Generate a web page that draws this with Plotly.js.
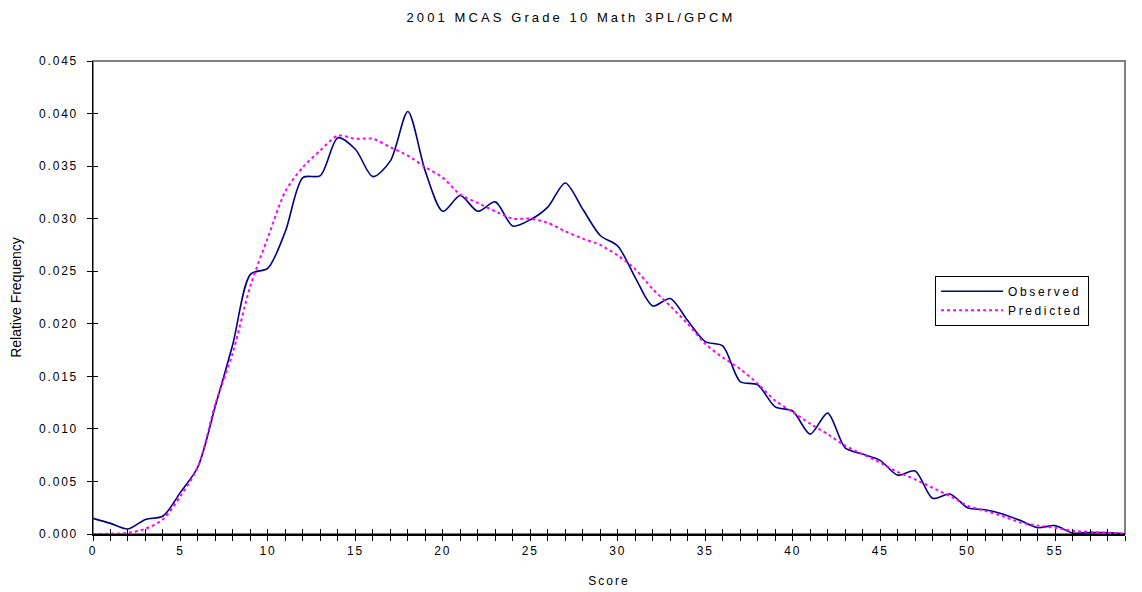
<!DOCTYPE html>
<html>
<head>
<meta charset="utf-8">
<script src="https://cdn.plot.ly/plotly-3.0.1.min.js"></script>
<style>
  html, body { margin: 0; padding: 0; background: #fff; }
  #chart { width: 1142px; height: 592px; }
  .gtitle { letter-spacing: 3.1px; }
  .xtick text, .ytick text { letter-spacing: 1.8px; }
  .xtitle { letter-spacing: 2px; }
  .legendtext { letter-spacing: 2.6px; }
</style>
</head>
<body>
<div id="chart"></div>
<script>
const scores = [];
for (let s = 0; s <= 59; s++) scores.push(s);

const observed = [
  0.00149, 0.00101, 0.00048, 0.00139, 0.00171, 0.00396, 0.0064, 0.0122, 0.0181, 0.0247,
  0.0253, 0.0288, 0.0339, 0.0341, 0.0377, 0.0366, 0.0340, 0.0355, 0.0402, 0.0345,
  0.0307, 0.0322, 0.0307, 0.0316, 0.0293, 0.0299, 0.0311, 0.0334, 0.0309, 0.0284,
  0.0274, 0.0244, 0.0217, 0.0224, 0.0203, 0.0183, 0.0179, 0.0145, 0.0142, 0.0121,
  0.0117, 0.0095, 0.0115, 0.0082, 0.0076, 0.0070, 0.0056, 0.0060, 0.0034, 0.0038,
  0.0025, 0.0023, 0.0019, 0.0013, 0.0006, 0.0008, 0.0001, 0.00013, 0.00013, 0.0
];

const predicted = [
  0.0, 0.00003, 0.0001, 0.0005, 0.0014, 0.0036, 0.0064, 0.0124, 0.0173, 0.0236,
  0.0282, 0.0326, 0.0349, 0.0365, 0.0379, 0.0376, 0.0376, 0.0368, 0.0360, 0.0349,
  0.0339, 0.0323, 0.0315, 0.0307, 0.0300, 0.0300, 0.0296, 0.0288, 0.0281, 0.0275,
  0.0265, 0.0252, 0.0233, 0.0217, 0.0200, 0.0181, 0.0168, 0.0157, 0.0143, 0.0127,
  0.0116, 0.0105, 0.0095, 0.0084, 0.0076, 0.0068, 0.0059, 0.0052, 0.0044, 0.0036,
  0.0027, 0.0022, 0.0017, 0.0011, 0.0008, 0.0006, 0.0003, 0.0002, 0.0001, 0.00005
];

const seriesNames = ['Observed', 'Predicted'];
const chartTitle = '2001 MCAS Grade 10 Math 3PL/GPCM';
const xTitle = 'Score';
const yTitle = 'Relative Frequency';

const font = 'Liberation Sans, Arial, sans-serif';

const traces = [
  {
    x: scores, y: observed, name: seriesNames[0], type: 'scatter', mode: 'lines',
    line: { color: '#000080', width: 1.6, shape: 'spline', smoothing: 0.8 }
  },
  {
    x: scores, y: predicted, name: seriesNames[1], type: 'scatter', mode: 'lines',
    line: { color: '#FF00FF', width: 2, dash: 'dot', shape: 'spline', smoothing: 0.8 }
  },
  {
    x: [0], y: [0], xaxis: 'x2', yaxis: 'y2', mode: 'markers',
    marker: { opacity: 0 }, showlegend: false, hoverinfo: 'skip'
  }
];

const layout = {
  width: 1142, height: 592,
  paper_bgcolor: '#fff', plot_bgcolor: '#fff',
  margin: { l: 93, r: 17, t: 61, b: 58 },
  font: { family: font, size: 12, color: '#000' },
  title: {
    text: chartTitle, x: 0.5, xref: 'container', xanchor: 'center', y: 0.97, yref: 'container',
    yanchor: 'middle', font: { family: font, size: 13, color: '#000' }
  },
  xaxis: {
    range: [0, 59], dtick: 5, tick0: 0,
    showgrid: false, zeroline: false,
    showline: true, linecolor: '#000', linewidth: 1.5,
    ticks: 'outside', ticklen: 5, tickcolor: '#000', tickwidth: 1,
    minor: { dtick: 1, ticks: 'outside', ticklen: 5, tickcolor: '#000', tickwidth: 1 },
    tickfont: { family: font, size: 12, color: '#000' },
    title: { text: xTitle, standoff: 19, font: { family: font, size: 12, color: '#000' } }
  },
  yaxis: {
    range: [0, 0.045], dtick: 0.005, tick0: 0, tickformat: '.3f',
    showgrid: false, zeroline: false,
    showline: true, linecolor: '#000', linewidth: 1.5,
    ticks: 'outside', ticklen: 5, tickcolor: '#000', tickwidth: 1,
    ticklabelstandoff: 6,
    tickfont: { family: font, size: 12, color: '#000' },
    title: { text: yTitle, standoff: 14, font: { family: font, size: 14, color: '#000' } }
  },
  xaxis2: {
    overlaying: 'x', anchor: 'y2', range: [0, 59], dtick: 1, tick0: 0,
    showgrid: false, zeroline: false, showline: false, showticklabels: false,
    ticks: 'inside', ticklen: 5, tickcolor: '#000', tickwidth: 1
  },
  yaxis2: {
    overlaying: 'y', anchor: 'x2', range: [0, 0.045], dtick: 0.005, tick0: 0,
    showgrid: false, zeroline: false, showline: false, showticklabels: false,
    ticks: 'inside', ticklen: 5, tickcolor: '#000', tickwidth: 1
  },
  shapes: [{
    type: 'rect', xref: 'paper', yref: 'paper', x0: 0, x1: 1, y0: 0, y1: 1,
    line: { color: '#808080', width: 2 }, layer: 'below'
  }],
  legend: {
    x: 0.816, y: 0.546, xanchor: 'left', yanchor: 'top',
    bgcolor: '#fff', bordercolor: '#000', borderwidth: 1,
    font: { family: font, size: 12, color: '#000' },
    tracegroupgap: 0, itemwidth: 62
  },
  showlegend: true
};

Plotly.newPlot('chart', traces, layout, { staticPlot: true, displayModeBar: false });
</script>
</body>
</html>
